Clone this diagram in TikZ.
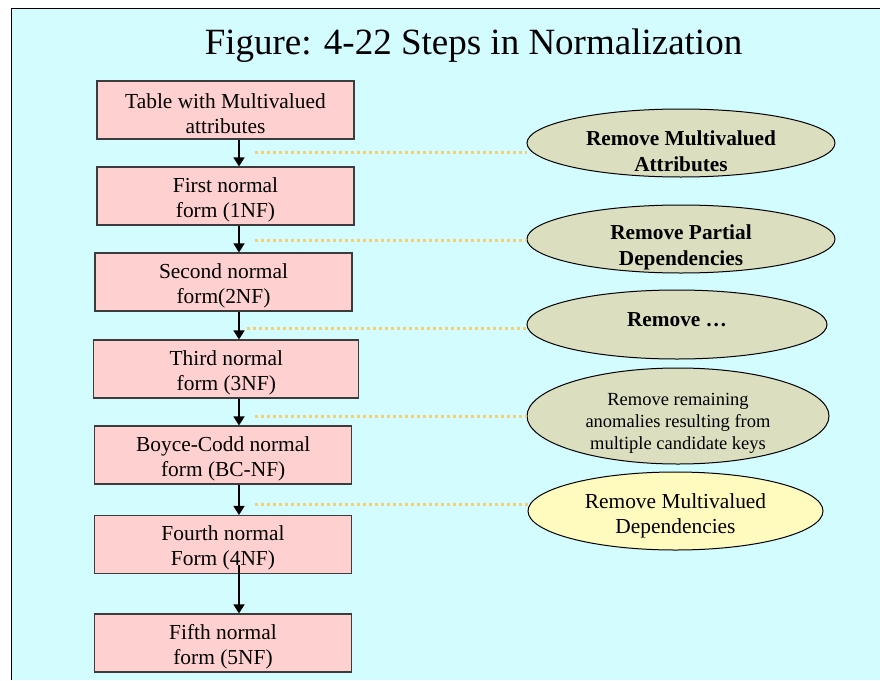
\documentclass[tikz,border=0pt]{standalone}
\usepackage{fontspec}
\setmainfont{Liberation Serif}
\usetikzlibrary{shapes.geometric}
\usetikzlibrary{arrows.meta}

\definecolor{slidebg}{RGB}{210,252,255}
\definecolor{nfpink}{RGB}{255,208,208}
\definecolor{boxline}{RGB}{60,60,60}
\definecolor{ovalfill}{RGB}{219,222,191}
\definecolor{ovalyellow}{RGB}{255,250,190}
\definecolor{dotline}{RGB}{246,206,115}

\newcommand{\nfstrut}{\rule{0pt}{22pt}}

\begin{document}
\begin{tikzpicture}[
        x=1pt, y=-1pt, >={Triangle[length=9pt,width=11pt]},
        nf/.style={draw=boxline, line width=1.1pt, fill=nfpink, inner sep=0pt,
                   minimum width=257pt, minimum height=58pt, align=center,
                   font=\fontsize{21.4}{25}\selectfont},
        oval/.style={ellipse, draw=black, line width=1pt, fill=ovalfill, inner sep=0pt},
        rmvtext/.style={align=center, font=\fontsize{21.3}{25.5}\selectfont\bfseries},
        flow/.style={->, line width=1.4pt},
        dots/.style={dotline, line width=3pt, dash pattern=on 3pt off 3pt},
    ]
    \useasboundingbox (0,0) rectangle (880,680);
    \fill[white] (0,0) rectangle (880,680);
    \fill[slidebg] (11.5,8.5) rectangle (880,680);
    \draw[line width=1.5pt] (11.5,680) -- (11.5,8.5) -- (880,8.5);

    \node[anchor=base, font=\fontsize{37}{40}\selectfont] (title) at (473.5,54)
        {Figure: 4-22 Steps in Normalization};

    \node[nf] (b0) at (225.5,110) {\nfstrut Table with Multivalued\\attributes};
    \node[nf] (b1) at (225.5,196) {\nfstrut First normal\\form (1NF)};
    \node[nf] (b2) at (223.5,282) {\nfstrut Second normal\\form(2NF)};
    \node[nf, minimum width=265pt] (b3) at (226.3,369) {\nfstrut Third normal\\form (3NF)};
    \node[nf] (b4) at (223.2,455) {\nfstrut Boyce-Codd normal\\form (BC-NF)};
    \node[nf] (b5) at (223,544.5) {\nfstrut Fourth normal\\Form (4NF)};
    \node[nf] (b6) at (223,643) {\nfstrut Fifth normal\\form (5NF)};

    \coordinate (ax) at (239,0);
    \foreach \a/\b in {b0/b1, b1/b2, b2/b3, b3/b4, b4/b5}
        \draw[flow] (\a.south -| ax) -- (\b.north -| ax);
    \path (b5.south -| ax) ++(0,-9) coordinate (a5);
    \draw[flow] (a5) -- (b6.north -| ax);

    \node[oval, minimum width=308pt, minimum height=68pt,
          label={[rmvtext, yshift=-8pt]center:Remove Multivalued\\Attributes}]
          (e1) at (681,143) {};
    \node[oval, minimum width=308pt, minimum height=68pt,
          label={[rmvtext, yshift=-8.5pt]center:Remove Partial\\Dependencies}]
          (e2) at (681,239) {};
    \node[oval, minimum width=300pt, minimum height=69pt,
          label={[rmvtext, yshift=5pt]center:Remove \dots}]
          (e3) at (677,324.5) {};
    \node[oval, minimum width=302pt, minimum height=96pt,
          label={[align=center, font=\fontsize{18.5}{22}\selectfont, yshift=-7pt]center:Remove remaining\\anomalies resulting from\\multiple candidate keys}]
          (e4) at (678,416) {};
    \node[oval, fill=ovalyellow, minimum width=295pt, minimum height=78pt,
          label={[align=center, font=\fontsize{21.4}{25}\selectfont, yshift=-4.5pt]center:Remove Multivalued\\Dependencies}]
          (e5) at (675.5,511) {};

    \coordinate (d1) at (255,152.3);
    \coordinate (d2) at (255,240.3);
    \coordinate (d3) at (247,328.3);
    \coordinate (d4) at (255,416.7);
    \coordinate (d5) at (255,504);
    \foreach \i in {1,...,5}
        \draw[dots] (d\i) -- (d\i -| e\i.west);

    \end{tikzpicture}
\end{document}
